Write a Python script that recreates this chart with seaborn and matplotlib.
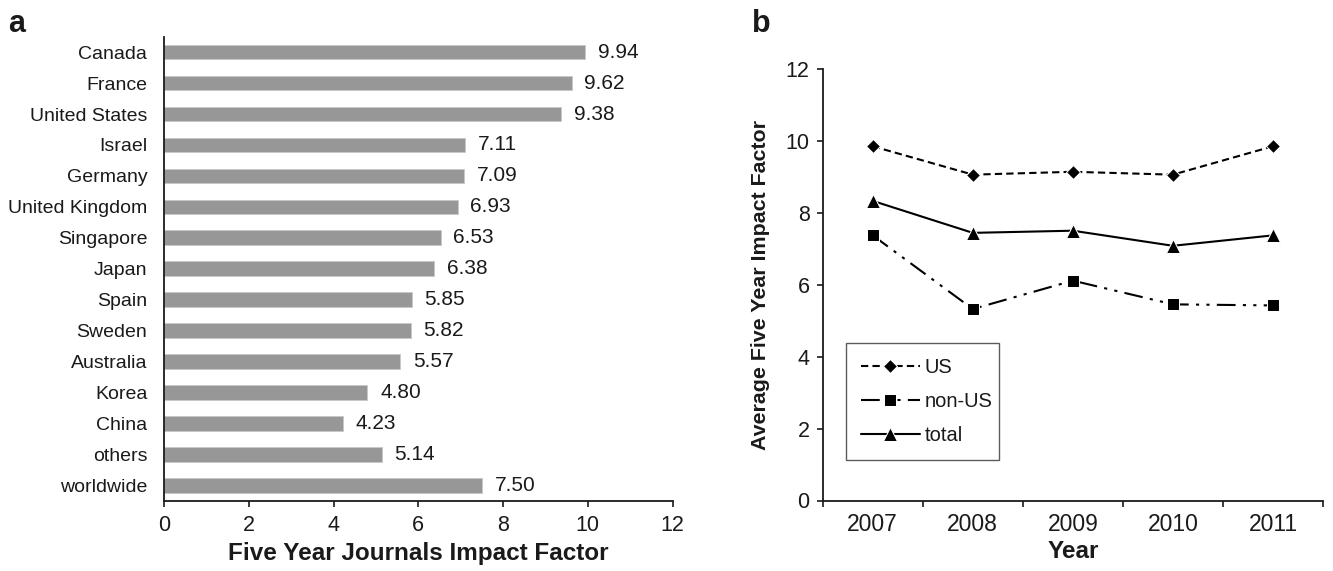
import numpy as np
import pandas as pd
import matplotlib
matplotlib.use("Agg")
import matplotlib.pyplot as plt
import seaborn as sns

countries = ["Canada", "France", "United States", "Israel", "Germany", "United Kingdom",
             "Singapore", "Japan", "Spain", "Sweden", "Australia", "Korea", "China",
             "others", "worldwide"]
impact = [9.94, 9.62, 9.38, 7.11, 7.09, 6.93, 6.53, 6.38, 5.85, 5.82, 5.57, 4.80, 4.23, 5.14, 7.50]

years = ["2007", "2008", "2009", "2010", "2011"]
us_vals = [9.86, 9.07, 9.15, 9.07, 9.86]
nonus_vals = [7.38, 5.33, 6.12, 5.46, 5.43]
total_vals = [8.34, 7.45, 7.51, 7.09, 7.38]

sns.set_theme(style="white")
plt.rcParams['font.family'] = ['Liberation Sans', 'DejaVu Sans']

W, H = 1333, 571
fig = plt.figure(figsize=(W / 100, H / 100), dpi=100)
ax1 = fig.add_axes([164 / W, 1 - 500.7 / H, 508.5 / W, 464.0 / H])
ax2 = fig.add_axes([822.7 / W, 1 - 500.5 / H, 500.3 / W, 431.1 / H])

TXT = "#1a1a1a"

# ---- panel a ----
df_a = pd.DataFrame({"country": countries, "impact": impact})
sns.barplot(data=df_a, x="impact", y="country", ax=ax1, color="#979797",
            saturation=1, width=0.47, edgecolor="#c8c8c8", linewidth=0.6)
ax1.set_xlim(0, 12)
ax1.set_ylim(14.5, -0.5)
ax1.set_xticks(np.arange(0, 13, 2))
ax1.set_xticklabels([str(v) for v in range(0, 13, 2)])
for i, v in enumerate(impact):
    ax1.text(v + 0.3, i, f"{v:.2f}", va="center", ha="left", fontsize=15, color=TXT)
ax1.set_ylabel("")
ax1.set_xlabel("Five Year Journals Impact Factor", fontsize=17.5, fontweight="bold",
               labelpad=4, color=TXT)
ax1.tick_params(axis="y", length=0, labelsize=14, pad=12, colors=TXT)
ax1.tick_params(axis="x", length=4.5, width=1.2, direction="out", labelsize=15.5, pad=6,
                colors=TXT, bottom=True)
for s in ["top", "right"]:
    ax1.spines[s].set_visible(False)
for s in ["left", "bottom"]:
    ax1.spines[s].set_color(TXT)
    ax1.spines[s].set_linewidth(1.3)

# ---- panel b ----
xpos = np.arange(len(years))
sns.lineplot(x=xpos, y=us_vals, ax=ax2, color="black", linestyle=(0, (3.5, 2)),
             marker="D", markersize=7, linewidth=1.5, label="US")
sns.lineplot(x=xpos, y=nonus_vals, ax=ax2, color="black",
             linestyle=(0, (9, 3.5, 1.5, 3.5, 1.5, 3.5)), marker="s", markersize=8.5,
             linewidth=1.5, label="non-US")
sns.lineplot(x=xpos, y=total_vals, ax=ax2, color="black", linestyle="-",
             marker="^", markersize=10, linewidth=1.5, label="total")
ax2.set_xlim(-0.5, 4.5)
ax2.set_ylim(0, 12)
ax2.set_yticks(np.arange(0, 13, 2))
ax2.set_yticklabels([str(v) for v in range(0, 13, 2)])
ax2.set_xticks(np.arange(-0.5, 5, 1))
ax2.set_xticklabels([])
ax2.set_xticks(xpos, minor=True)
ax2.set_xticklabels(years, minor=True)
ax2.tick_params(axis="x", which="major", length=4.5, width=1.2, direction="out", bottom=True,
                colors=TXT)
ax2.tick_params(axis="x", which="minor", length=0, labelsize=16.5, pad=9, colors=TXT)
ax2.tick_params(axis="y", length=4.5, width=1.2, direction="out", left=True, labelsize=15.5,
                pad=5, colors=TXT)
ax2.set_xlabel("Year", fontsize=17.5, fontweight="bold", labelpad=3, color=TXT)
ax2.set_ylabel("Average Five Year Impact Factor", fontsize=15.4, fontweight="bold",
               labelpad=11, color=TXT)
for s in ["top", "right"]:
    ax2.spines[s].set_visible(False)
for s in ["left", "bottom"]:
    ax2.spines[s].set_color(TXT)
    ax2.spines[s].set_linewidth(1.3)

leg = ax2.legend(loc="lower left", bbox_to_anchor=(0.0466, 0.094, 0.3064, 0.274),
                 mode="expand", frameon=True, fancybox=False, shadow=False,
                 fontsize=14.5, handlelength=2.9, handletextpad=0.25, labelspacing=0.75,
                 borderpad=0.75, borderaxespad=0)
leg.get_frame().set_edgecolor("#333333")
leg.get_frame().set_linewidth(1.0)
for t in leg.get_texts():
    t.set_color(TXT)

fig.text(8 / W, 1 - 32 / H, "a", fontsize=22, fontweight="bold", va="baseline", ha="left",
         color=TXT)
fig.text(751.7 / W, 1 - 32 / H, "b", fontsize=22, fontweight="bold", va="baseline", ha="left",
         color=TXT)

fig.savefig("out.png", dpi=100)
